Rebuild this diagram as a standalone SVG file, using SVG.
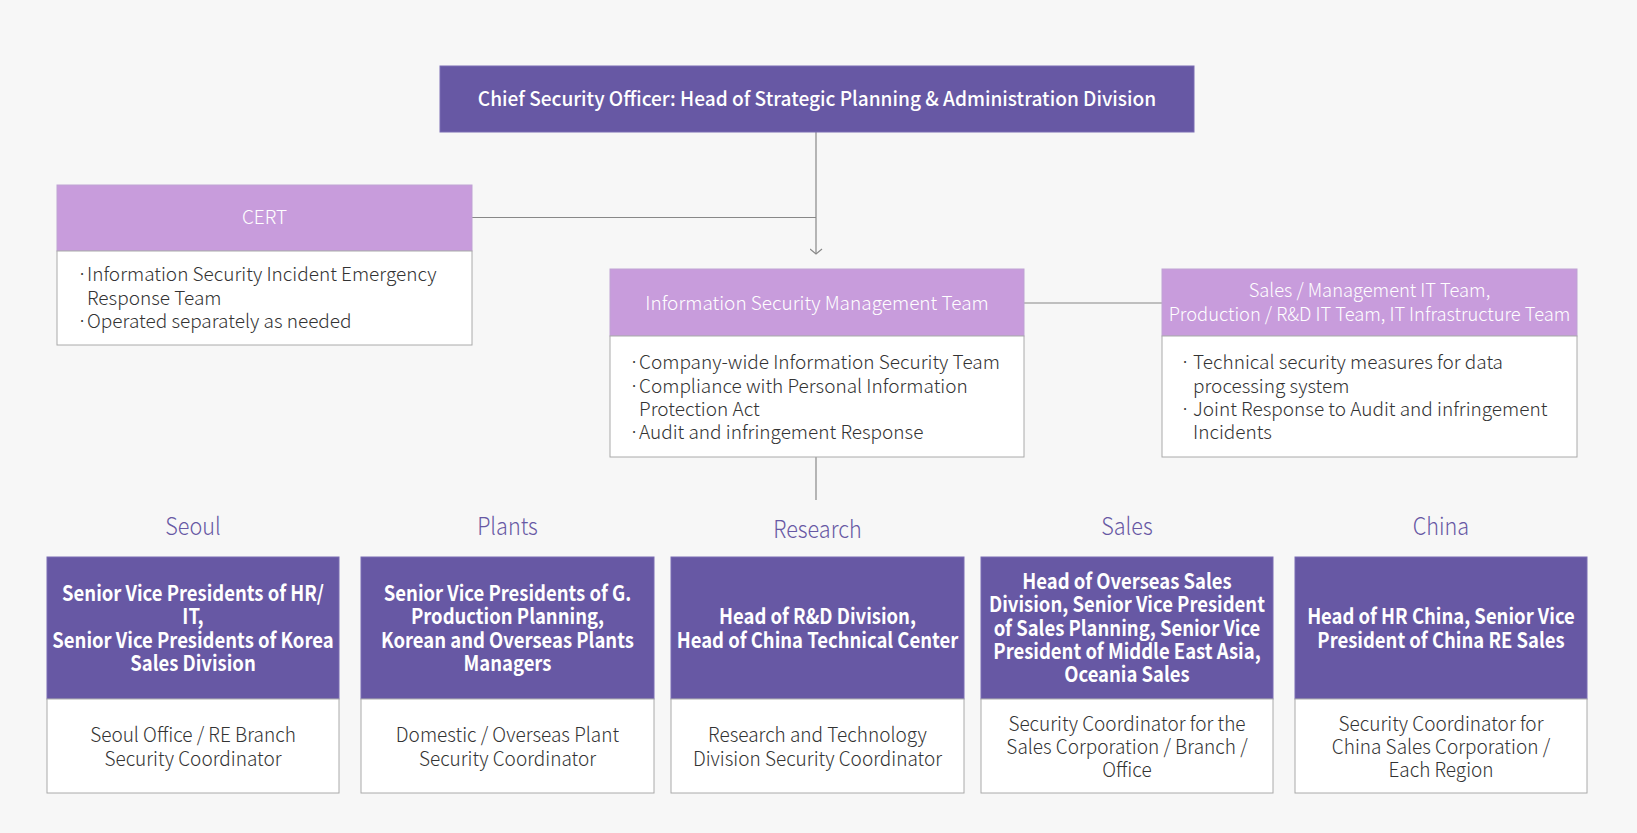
<svg xmlns="http://www.w3.org/2000/svg" width="1637" height="833" viewBox="0 0 1637 833">
<defs>
<style>
.bg{fill:#f7f7f7}
.dark{fill:#6758a4;stroke:#7a6cb3;stroke-width:1}
.lav{fill:#c89cdc;stroke:#bfa3d4;stroke-width:1}
.wbox{fill:#ffffff;stroke:#aaaaaa;stroke-width:1}
.conn{stroke:#888888;stroke-width:1.2;fill:none}
text{font-family:"Noto Sans CJK KR","Noto Sans",sans-serif}
.title{font-size:20px;font-weight:500;fill:#ffffff;text-anchor:middle}
.lavt{font-size:19px;font-weight:300;fill:#ffffff;text-anchor:middle}
.body{font-size:19px;font-weight:300;fill:#333333}
.head{font-size:21px;font-weight:700;fill:#ffffff;text-anchor:middle}
.sub{font-size:20px;font-weight:300;fill:#333333;text-anchor:middle}
.label{font-size:24px;font-weight:300;fill:#6758a4;text-anchor:middle}
</style>
<marker id="arr" markerWidth="8" markerHeight="13" refX="6" refY="6.5" orient="auto" markerUnits="userSpaceOnUse" viewBox="0 0 8 13">
<path d="M1,0.5 L6,6.5 L1,12.5" fill="none" stroke="#888888" stroke-width="1.2"/>
</marker>
</defs>
<rect class="bg" x="0" y="0" width="1637" height="833"/>

<g id="connectors">
<path class="conn" d="M816,132 V254" marker-end="url(#arr)"/>
<path class="conn" d="M472,217.5 H816"/>
<path class="conn" d="M1024,303 H1162"/>
<path class="conn" d="M816,457 V500"/>
</g>

<g id="cso">
<rect class="dark" x="440" y="66" width="754" height="66"/>
<text class="title" x="817" y="106" transform="matrix(0.955,0,0,1,36.77,0)">Chief Security Officer: Head of Strategic Planning &amp; Administration Division</text>
</g>

<g id="cert">
<rect class="lav" x="57" y="185" width="415" height="66"/>
<rect class="wbox" x="57" y="251" width="415" height="94"/>
<text class="lavt" x="264.5" y="224">CERT</text>
<text class="body"><tspan x="77" y="281">·</tspan><tspan x="87" y="281">Information Security Incident Emergency</tspan><tspan x="87" y="304.5">Response Team</tspan><tspan x="77" y="328">·</tspan><tspan x="87" y="328">Operated separately as needed</tspan></text>
</g>

<g id="ismt">
<rect class="lav" x="610" y="269" width="414" height="67"/>
<rect class="wbox" x="610" y="336" width="414" height="121"/>
<text class="lavt" x="817" y="310">Information Security Management Team</text>
<text class="body"><tspan x="629" y="369">·</tspan><tspan x="639" y="369">Company-wide Information Security Team</tspan><tspan x="629" y="392.5">·</tspan><tspan x="639" y="392.5">Compliance with Personal Information</tspan><tspan x="639" y="416">Protection Act</tspan><tspan x="629" y="439">·</tspan><tspan x="639" y="439">Audit and infringement Response</tspan></text>
</g>

<g id="itteams">
<rect class="lav" x="1162" y="269" width="415" height="67"/>
<rect class="wbox" x="1162" y="336" width="415" height="121"/>
<text class="lavt" transform="matrix(0.965,0,0,1,47.93,0)"><tspan x="1369.5" y="297.5">Sales / Management IT Team,</tspan><tspan x="1369.5" y="321">Production / R&amp;D IT Team, IT Infrastructure Team</tspan></text>
<text class="body"><tspan x="1180" y="369">·</tspan><tspan x="1193" y="369">Technical security measures for data</tspan><tspan x="1193" y="392.5">processing system</tspan><tspan x="1180" y="416">·</tspan><tspan x="1193" y="416">Joint Response to Audit and infringement</tspan><tspan x="1193" y="439">Incidents</tspan></text>
</g>

<g id="seoul">
<text class="label" x="193" y="535" transform="matrix(0.9,0,0,1,19.3,0)">Seoul</text>
<rect class="dark" x="47" y="557" width="292" height="142"/>
<rect class="wbox" x="47" y="699" width="292" height="94"/>
<text class="head" transform="matrix(0.88,0,0,1,23.16,0)"><tspan x="193" y="601">Senior Vice Presidents of HR/</tspan><tspan x="193" y="624.5">IT,</tspan><tspan x="193" y="648">Senior Vice Presidents of Korea</tspan><tspan x="193" y="671">Sales Division</tspan></text>
<text class="sub" transform="matrix(0.95,0,0,1,9.65,0)"><tspan x="193" y="742">Seoul Office / RE Branch</tspan><tspan x="193" y="766">Security Coordinator</tspan></text>
</g>

<g id="plants">
<text class="label" x="507.5" y="535" transform="matrix(0.9,0,0,1,50.75,0)">Plants</text>
<rect class="dark" x="361" y="557" width="293" height="142"/>
<rect class="wbox" x="361" y="699" width="293" height="94"/>
<text class="head" transform="matrix(0.88,0,0,1,60.9,0)"><tspan x="507.5" y="601">Senior Vice Presidents of G.</tspan><tspan x="507.5" y="624.5">Production Planning,</tspan><tspan x="507.5" y="648">Korean and Overseas Plants</tspan><tspan x="507.5" y="671">Managers</tspan></text>
<text class="sub" transform="matrix(0.95,0,0,1,25.375,0)"><tspan x="507.5" y="742">Domestic / Overseas Plant</tspan><tspan x="507.5" y="766">Security Coordinator</tspan></text>
</g>

<g id="research">
<text class="label" x="817.5" y="538" transform="matrix(0.9,0,0,1,81.75,0)">Research</text>
<rect class="dark" x="671" y="557" width="293" height="142"/>
<rect class="wbox" x="671" y="699" width="293" height="94"/>
<text class="head" transform="matrix(0.88,0,0,1,98.1,0)"><tspan x="817.5" y="624.5">Head of R&amp;D Division,</tspan><tspan x="817.5" y="648">Head of China Technical Center</tspan></text>
<text class="sub" transform="matrix(0.95,0,0,1,40.875,0)"><tspan x="817.5" y="742">Research and Technology</tspan><tspan x="817.5" y="766">Division Security Coordinator</tspan></text>
</g>

<g id="sales">
<text class="label" x="1127" y="535" transform="matrix(0.9,0,0,1,112.7,0)">Sales</text>
<rect class="dark" x="981" y="557" width="292" height="142"/>
<rect class="wbox" x="981" y="699" width="292" height="94"/>
<text class="head" transform="matrix(0.88,0,0,1,135.24,0)"><tspan x="1127" y="589">Head of Overseas Sales</tspan><tspan x="1127" y="612.5">Division, Senior Vice President</tspan><tspan x="1127" y="636">of Sales Planning, Senior Vice</tspan><tspan x="1127" y="659">President of Middle East Asia,</tspan><tspan x="1127" y="682.5">Oceania Sales</tspan></text>
<text class="sub" transform="matrix(0.95,0,0,1,56.35,0)"><tspan x="1127" y="731">Security Coordinator for the</tspan><tspan x="1127" y="754">Sales Corporation / Branch /</tspan><tspan x="1127" y="777">Office</tspan></text>
</g>

<g id="china">
<text class="label" x="1441" y="535" transform="matrix(0.9,0,0,1,144.1,0)">China</text>
<rect class="dark" x="1295" y="557" width="292" height="142"/>
<rect class="wbox" x="1295" y="699" width="292" height="94"/>
<text class="head" transform="matrix(0.88,0,0,1,172.92,0)"><tspan x="1441" y="624.5">Head of HR China, Senior Vice</tspan><tspan x="1441" y="648">President of China RE Sales</tspan></text>
<text class="sub" transform="matrix(0.95,0,0,1,72.05,0)"><tspan x="1441" y="731">Security Coordinator for</tspan><tspan x="1441" y="754">China Sales Corporation /</tspan><tspan x="1441" y="777">Each Region</tspan></text>
</g>
</svg>
